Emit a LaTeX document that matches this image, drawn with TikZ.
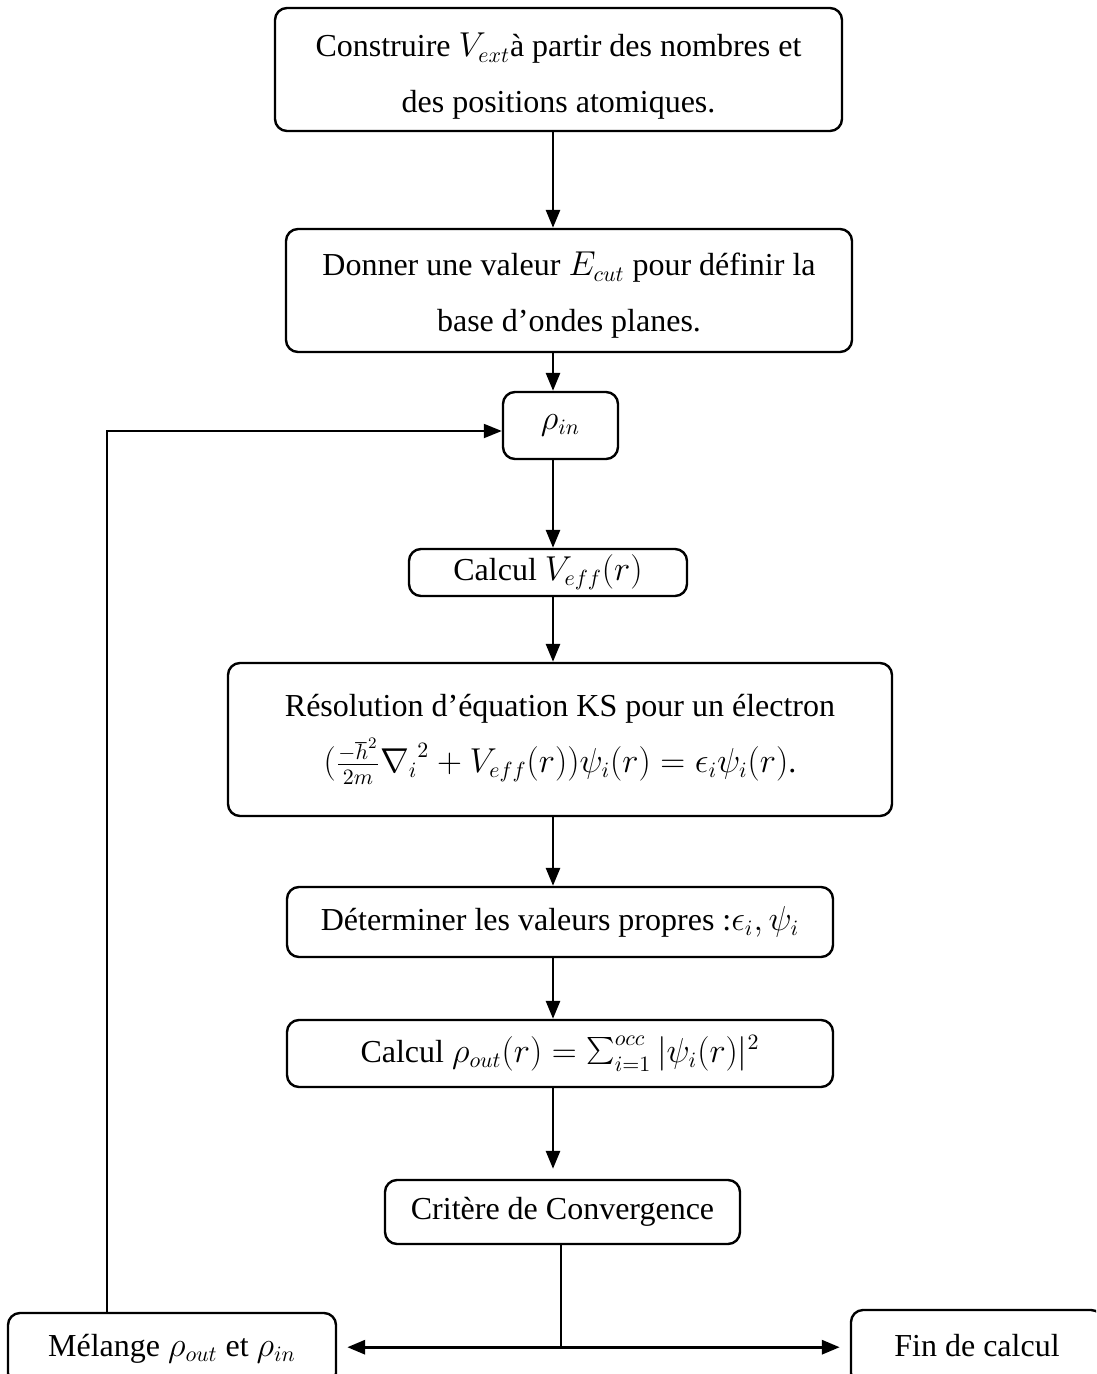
\documentclass[tikz,border=0pt]{standalone}
\usepackage{fontspec}
\setmainfont{Liberation Serif}
\usetikzlibrary{arrows.meta,calc}
\tikzset{
  box/.style={draw, line width=1.2pt, rounded corners=6pt, align=center, inner sep=0pt,
    font=\fontsize{16}{28}\selectfont},
  boxtext/.style={align=center, inner sep=0pt, font=\fontsize{16}{28}\selectfont},
  arr/.style={line width=1.4pt, -{Triangle[length=9pt,width=7pt]}},
  thin line/.style={line width=0.8pt},
}
\begin{document}
\begin{tikzpicture}[x=0.5pt,y=-0.5pt]
\useasboundingbox (0,0) rectangle (1096,1374);
\clip (0,0) rectangle (1096,1374);
\coordinate (ax) at (553,0);
\coordinate (fbx) at (107,0);
\coordinate (spx) at (561,0);
% boxes
\node[box, minimum width=283.5pt, minimum height=61.5pt] (b1) at (558.5,69.5) {};
\node[boxtext] (b1t) at ([yshift=-3.5pt]b1.center)
  {Construire $V_{ext}$à partir des nombres et\\des positions atomiques.};
\node[box, minimum width=283pt, minimum height=61.5pt] (b2) at (569,290.5) {};
\node[boxtext] (b2t) at ([yshift=-2.5pt]b2.center)
  {Donner une valeur $E_{cut}$ pour définir la\\base d’ondes planes.};
\node[box, minimum width=57.5pt, minimum height=33.5pt] (rin) at (560.5,425.5)
  {$\rho_{in}$};
\node[box, minimum width=139pt, minimum height=23.5pt] (veff) at (548,572.5)
  {Calcul $V_{eff}(r)$};
\node[box, minimum width=332pt, minimum height=76.5pt] (ks) at (560,739.5)
  {Résolution d’équation KS pour un électron\\$(\frac{-\hbar^2}{2m}{\nabla_i}^2+V_{eff}(r))\psi_i(r)=\epsilon_i\psi_i(r)$.};
\node[box, minimum width=273pt, minimum height=35pt] (det) at (560,922)
  {Déterminer les valeurs propres :$\epsilon_i,\psi_i$};
\node[box, minimum width=273pt, minimum height=33.5pt] (rout) at (560,1053.5)
  {\raisebox{-1pt}{Calcul $\rho_{out}(r)=\mathop{\scalebox{1.35}{$\sum$}}\nolimits_{i=1}^{occ}|\psi_i(r)|^2$}};
\node[box, minimum width=177.5pt, minimum height=32pt] (crit) at (562.5,1212)
  {\raisebox{-1.5pt}{Critère de Convergence}};
\node[box, minimum width=164pt, minimum height=36pt] (mel) at (172,1349)
  {\raisebox{2pt}{Mélange $\rho_{out}$ et $\rho_{in}$}};
\node[box, minimum width=126pt, minimum height=37.5pt] (fin) at (977,1347.5)
  {\raisebox{2pt}{Fin de calcul}};
% vertical flow
\draw[arr] (b1.south -| ax) -- (b2.north -| ax);
\draw[arr] (b2.south -| ax) -- (rin.north -| ax);
\draw[arr] (rin.south -| ax) -- (veff.north -| ax);
\draw[arr] (veff.south -| ax) -- (ks.north -| ax);
\draw[arr] (ks.south -| ax) -- (det.north -| ax);
\draw[arr] (det.south -| ax) -- (rout.north -| ax);
\draw[arr, shorten >=5pt] (rout.south -| ax) -- (crit.north -| ax);
% split
\coordinate (split) at ($(crit.south -| spx)+(0,102)$);
\draw[thin line] (crit.south -| spx) -- (split);
\draw[arr, line width=1.6pt, shorten >=5pt] (split) -- (split -| mel.east);
\draw[arr, line width=1.6pt, shorten >=5pt] (split) -- (split -| fin.west);
% feedback
\draw[line width=1pt, -{Triangle[length=9pt,width=7pt]}]
  (mel.north -| fbx) |- ([yshift=-2.75pt]rin.west);
\end{tikzpicture}
\end{document}
